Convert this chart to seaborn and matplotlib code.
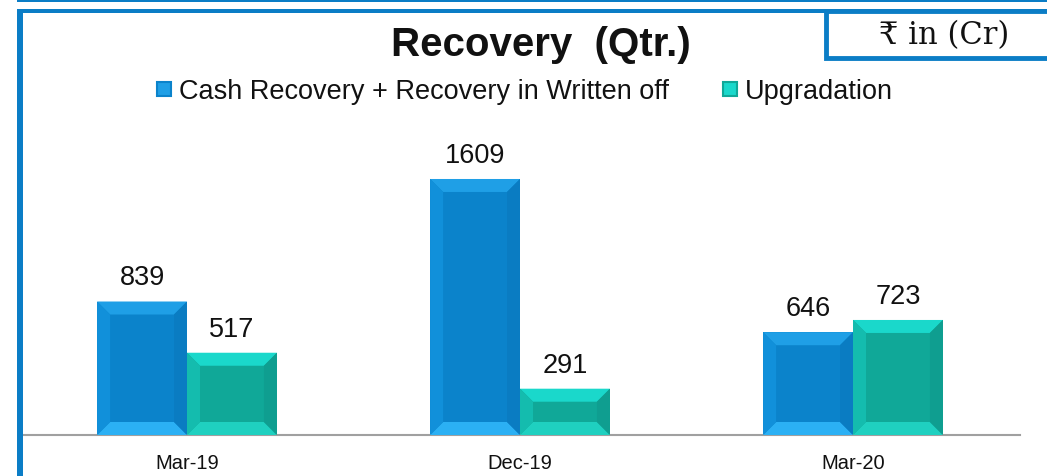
import numpy as np
import pandas as pd
import matplotlib
matplotlib.use("Agg")
import matplotlib.pyplot as plt
from matplotlib.lines import Line2D
from matplotlib.patches import Polygon, Rectangle
import seaborn as sns

sns.set_theme(style="white")
plt.rcParams["font.family"] = ["Liberation Sans", "DejaVu Sans"]
plt.rcParams["text.color"] = "#111111"

quarters = ["Mar-19", "Dec-19", "Mar-20"]
series = ["Cash Recovery + Recovery in Written off", "Upgradation"]
cash_recovery = [839, 1609, 646]
upgradation = [517, 291, 723]

# main face colour, then top / bottom / left / right bevel faces
bar_colors = {
    series[0]: ["#0b83cb", "#1f9fe6", "#2bb0f4", "#1190da", "#0a7cc2"],
    series[1]: ["#10a898", "#1ad8cb", "#1fd0c0", "#14bcae", "#0f9e90"],
}
frame_blue = "#0b7dc6"

df = pd.DataFrame({
    "quarter": quarters * 2,
    "series": [series[0]] * 3 + [series[1]] * 3,
    "value": cash_recovery + upgradation,
})

W, H = 1047, 477
fig = plt.figure(figsize=(W / 100, H / 100), dpi=100)
ax = fig.add_axes([20.5 / W, (H - 436) / H, 999 / W, 286.4 / H])

sns.barplot(data=df, x="quarter", y="value", hue="series", order=quarters,
            hue_order=series, palette={s: c[0] for s, c in bar_colors.items()},
            width=0.54, gap=0, saturation=1, legend=False, ax=ax,
            edgecolor="none", linewidth=0)
ax.set_ylim(0, 1800)
ax.set_xlim(-0.5, 2.5)

# bevel faces derived from each bar's geometry
px_x = ax.bbox.width / 3.0
px_y = ax.bbox.height / 1800.0
bev = 13
for i, bar in enumerate(ax.patches):
    s = series[i // 3]
    cols = bar_colors[s]
    x0, y0 = bar.get_x(), bar.get_y()
    x1, y1 = x0 + bar.get_width(), y0 + bar.get_height()
    dx, dy = bev / px_x, bev / px_y
    faces = [
        ([(x0, y1), (x1, y1), (x1 - dx, y1 - dy), (x0 + dx, y1 - dy)], cols[1]),
        ([(x0, y0), (x1, y0), (x1 - dx, y0 + dy), (x0 + dx, y0 + dy)], cols[2]),
        ([(x0, y0), (x0, y1), (x0 + dx, y1 - dy), (x0 + dx, y0 + dy)], cols[3]),
        ([(x1, y0), (x1, y1), (x1 - dx, y1 - dy), (x1 - dx, y0 + dy)], cols[4]),
    ]
    for pts, c in faces:
        ax.add_patch(Polygon(pts, closed=True, facecolor=c, edgecolor="none", zorder=3))

for cont in ax.containers:
    ax.bar_label(cont, fmt="%d", padding=8, fontsize=19.5, color="#111111")

sns.despine(ax=ax, left=True, top=True, right=True)
ax.spines["bottom"].set_color("#a0a0a0")
ax.spines["bottom"].set_linewidth(1.5)
ax.set_yticks([])
ax.set_xlabel("")
ax.set_ylabel("")
ax.tick_params(axis="x", length=0, pad=13, labelsize=14.5, labelcolor="#111111")

# title
fig.text(541 / W, (H - 56) / H, "Recovery  (Qtr.)", ha="center", va="baseline",
         fontsize=29, fontweight="bold", color="#111111")

# legend
handles = [Line2D([], [], ls="none", marker="s", markersize=9.5,
                  markerfacecolor=bar_colors[s][1], markeredgecolor=bar_colors[s][0],
                  markeredgewidth=1.5) for s in series]
leg = fig.legend(handles, series, loc="center", bbox_to_anchor=(525 / W, (H - 92) / H),
                 ncol=2, frameon=False, fontsize=19.5, handlelength=0.5,
                 handletextpad=0.3, columnspacing=2.0, borderpad=0, borderaxespad=0)
for t in leg.get_texts():
    t.set_color("#111111")

# frame lines
fig.add_artist(Rectangle((17 / W, (H - 3) / H), 1.0, 3 / H, transform=fig.transFigure,
                         facecolor=frame_blue, edgecolor="none"))
fig.add_artist(Rectangle((17 / W, (H - 14) / H), 1.0, 4 / H, transform=fig.transFigure,
                         facecolor=frame_blue, edgecolor="none"))
fig.add_artist(Rectangle((17 / W, 0), 6 / W, (H - 10) / H, transform=fig.transFigure,
                         facecolor=frame_blue, edgecolor="none"))

# unit box
fig.add_artist(Rectangle((826 / W, (H - 59) / H), 240 / W, 47 / H, transform=fig.transFigure,
                         facecolor="white", edgecolor=frame_blue, linewidth=3.5))
fig.text(944 / W, (H - 36) / H, "₹ in (Cr)", ha="center", va="center",
         fontsize=22, family=["DejaVu Serif", "DejaVu Sans"], color="#111111")

fig.savefig("out.png", dpi=100)
